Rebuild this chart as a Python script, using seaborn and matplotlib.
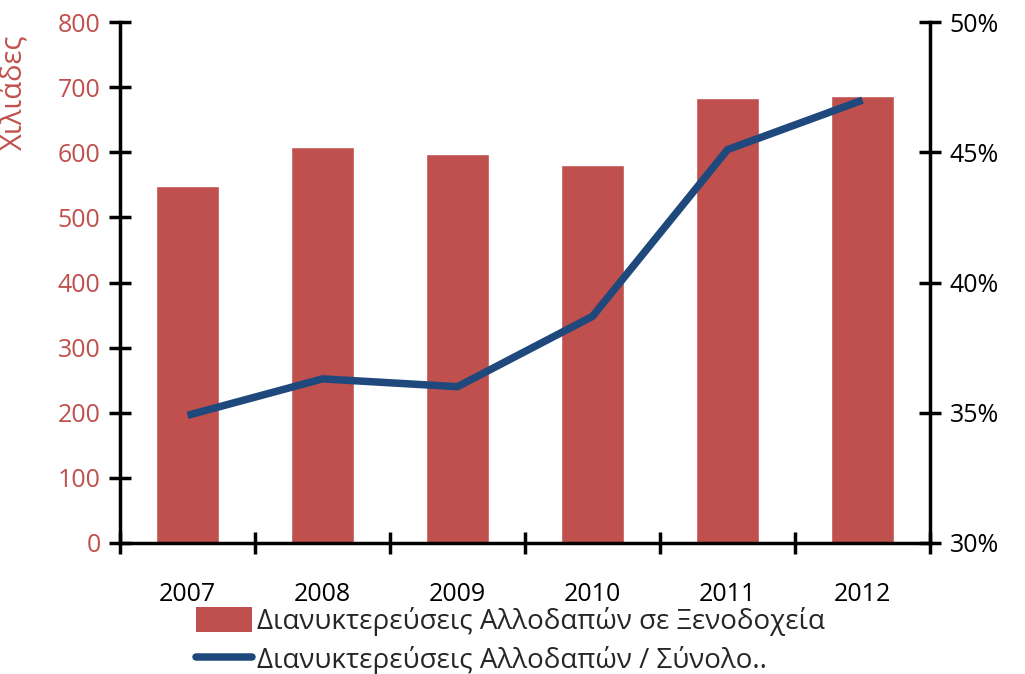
import numpy as np
import pandas as pd
import matplotlib
matplotlib.use('Agg')
import matplotlib.pyplot as plt
import seaborn as sns
from matplotlib.patches import Patch
from matplotlib.lines import Line2D

years = ['2007', '2008', '2009', '2010', '2011', '2012']
overnights = [548, 608, 597, 580, 683, 686]          # thousands
share_pct = [34.9, 36.3, 36.0, 38.7, 45.1, 47.0]     # % of total

bar_label = 'Διανυκτερεύσεις Αλλοδαπών σε Ξενοδοχεία'
line_label = 'Διανυκτερεύσεις Αλλοδαπών / Σύνολο..'
ylabel = 'Χιλιάδες'

red = '#C0504D'
blue = '#1F497D'

sns.set_style('white')
plt.rcParams['font.family'] = ['Open Sans', 'DejaVu Sans']

df = pd.DataFrame({'year': years, 'overnights': overnights, 'share': share_pct,
                   'pos': np.arange(len(years))})

fig = plt.figure(figsize=(10.25, 6.74), dpi=100)
ax = fig.add_axes([120 / 1025, 1 - 543 / 674, 810 / 1025, 521 / 674])

sns.barplot(data=df, x='year', y='overnights', color=red, saturation=1,
            width=0.47, ax=ax)
ax.set_xlim(-0.5, len(years) - 0.5)
ax.set_ylim(0, 800)
ax.set_yticks(np.arange(0, 801, 100))
ax.set_xlabel('')
ax.set_ylabel('')

ax2 = ax.twinx()
sns.lineplot(data=df, x='pos', y='share', color=blue, linewidth=5.4, ax=ax2,
             solid_capstyle='butt')
ax2.set_ylim(30, 50)
ax2.set_yticks(np.arange(30, 51, 5))
ax2.set_yticklabels([f'{v:.0f}%' for v in np.arange(30, 51, 5)])
ax2.set_xlim(-0.5, len(years) - 0.5)
ax2.set_ylabel('')
ax2.set_xlabel('')

for a in (ax, ax2):
    for s in a.spines.values():
        s.set_visible(False)

ax.spines['left'].set_visible(True)
ax.spines['bottom'].set_visible(True)
ax2.spines['right'].set_visible(True)
for s in (ax.spines['left'], ax.spines['bottom'], ax2.spines['right']):
    s.set_color('black')
    s.set_linewidth(2.5)

fs = 18
ax.set_xticks(np.arange(-0.5, len(years), 1), minor=True)
ax.tick_params(axis='x', which='major', length=0, pad=28, labelsize=fs,
               labelcolor='black')
ax.tick_params(axis='x', which='minor', direction='inout', length=16, width=2.5,
               color='black', bottom=True)
ax.tick_params(axis='y', direction='inout', length=16, width=2.5, color='black',
               labelsize=fs, labelcolor=red, pad=6, left=True)
ax2.tick_params(axis='y', direction='inout', length=16, width=2.5, color='black',
                labelsize=fs, labelcolor='black', pad=6, right=True)
ax2.tick_params(axis='x', length=0)

# axis title close to the left edge, as in the original
fig.text(28 / 1025, 1 - 92 / 674, ylabel, rotation=90, color=red, fontsize=21,
         ha='right', va='center')

handles = [Patch(facecolor=red, edgecolor='none'),
           Line2D([0], [0], color=blue, linewidth=5.4, solid_capstyle='round')]
fig.legend(handles, [bar_label, line_label], loc='upper left',
           bbox_to_anchor=(196 / 1025, 1 - 607 / 674), frameon=False,
           fontsize=20, handlelength=2.0, handleheight=1.0, handletextpad=0.2,
           labelspacing=0.35, borderpad=0, borderaxespad=0)

fig.savefig('out.png', dpi=100)
